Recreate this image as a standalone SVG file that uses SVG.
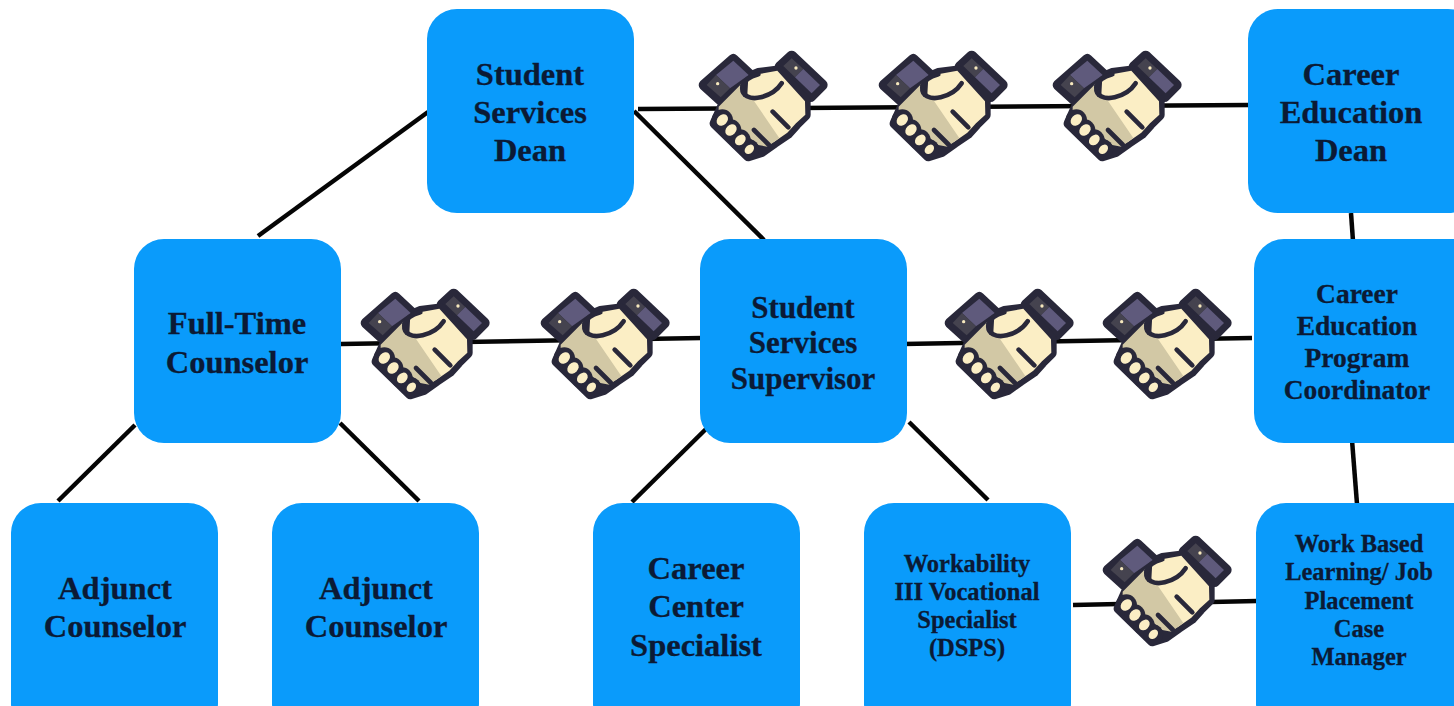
<svg xmlns="http://www.w3.org/2000/svg" width="1454" height="706" viewBox="0 0 1454 706">
<style>
.b{fill:#0a9bfb}
.c{stroke:#050505;stroke-width:4.5;fill:none}
text{font-family:"Liberation Serif","Times New Roman",serif;font-weight:bold;fill:#0b1a35;text-anchor:middle;stroke:#0b1a35;stroke-width:.3px}
.l{font-size:32.5px}
.m{font-size:31px}
.s{font-size:27.5px}
.x{font-size:24.5px}
.o{fill:#29283a;stroke:#29283a;stroke-width:32;stroke-linejoin:round}
.h{fill:none;stroke:#29283a;stroke-width:14;stroke-linecap:round;stroke-linejoin:round}
</style>
<defs>
<g id="hs" transform="scale(.3333)">
<path class="o" d="M130 58L183 108L95 183L42 135Z"/>
<path class="o" d="M305 48L397 135L362 170L270 80Z"/>
<path class="o" d="M160 120L205 100L265 92L346 183L346 225L318 253L293 281L253 308L215 335L175 348L75 250L95 205Z"/>
<path fill="#5f5a7c" d="M130 62L176 105L120 145L78 105Z"/><path fill="#45434f" d="M78 105L120 145L92 172L50 135Z"/>
<path fill="#45434f" d="M305 55L280 78L315 112L340 87Z"/><path fill="#5f5a7c" d="M340 87L315 112L365 160L390 135Z"/>
<circle cx="83" cy="131" r="5" fill="#f6e8bd"/><circle cx="318" cy="84" r="5" fill="#f6e8bd"/>
<path fill="#fbeec5" d="M175 112L208 102L262 92L345 184L346 224L318 250L292 278L252 306L232 315L200 285L170 200Z"/>
<path fill="#d2c8a5" d="M168 118L150 135L160 170L190 180L268 294L232 320L205 315L175 290L125 250L86 212L86 200Z"/>
<path class="h" d="M275 130C262 150 242 165 212 172C178 180 155 165 157 143C160 122 178 110 205 103M248 215L295 262M192 270L237 315"/>
<g fill="#29283a"><circle cx="97" cy="240" r="32"/><circle cx="122" cy="270" r="32"/><circle cx="150" cy="300" r="32"/><circle cx="178" cy="328" r="30"/></g>
<g fill="#fbeec5"><ellipse cx="97" cy="240" rx="19" ry="15" transform="rotate(-45 97 240)"/><ellipse cx="123" cy="270" rx="19" ry="15" transform="rotate(-45 123 270)"/><ellipse cx="151" cy="300" rx="18" ry="14" transform="rotate(-45 151 300)"/><ellipse cx="178" cy="328" rx="16" ry="12" transform="rotate(-45 178 328)"/></g>
</g>
</defs>
<rect width="1454" height="706" fill="#fff"/>
<g id="connectors" class="c">
<path d="M638 109L1250 105"/>
<path d="M428 112L258 236"/>
<path d="M634 111L764 240"/>
<path d="M341 344L702 338"/>
<path d="M903 344L1252 338"/>
<path d="M1351 213L1353 241"/>
<path d="M1352 440L1357 504"/>
<path d="M135 425L58 501"/>
<path d="M340 423L419 501"/>
<path d="M708 427L632 502"/>
<path d="M909 422L988 500"/>
<path d="M1073 605L1257 601"/>
</g>
<g id="handshakes">
<use href="#hs" x="690" y="40"/><use href="#hs" x="870" y="40"/><use href="#hs" x="1044" y="40"/>
<use href="#hs" x="352" y="278"/><use href="#hs" x="532" y="278"/><use href="#hs" x="936" y="278"/><use href="#hs" x="1094" y="278"/>
<use href="#hs" x="1094" y="525"/>
</g>
<g id="n1"><rect class="b" x="427" y="9" width="207" height="204" rx="30"/><text class="l" x="530" y="85">Student</text><text class="l" x="530" y="123">Services</text><text class="l" x="530" y="161">Dean</text></g>
<g id="n2"><rect class="b" x="1248" y="9" width="230" height="204" rx="30"/><text class="l" x="1351" y="85">Career</text><text class="l" x="1351" y="123">Education</text><text class="l" x="1351" y="161">Dean</text></g>
<g id="n3"><rect class="b" x="134" y="239" width="207" height="204" rx="30"/><text class="l" x="237" y="334">Full-Time</text><text class="l" x="237" y="373">Counselor</text></g>
<g id="n4"><rect class="b" x="700" y="239" width="207" height="204" rx="30"/><text class="m" x="803" y="318">Student</text><text class="m" x="803" y="353">Services</text><text class="m" x="803" y="389">Supervisor</text></g>
<g id="n5"><rect class="b" x="1254" y="239" width="230" height="204" rx="30"/><text class="s" x="1357" y="303">Career</text><text class="s" x="1357" y="335">Education</text><text class="s" x="1357" y="367">Program</text><text class="s" x="1357" y="399">Coordinator</text></g>
<g id="n6"><rect class="b" x="11" y="503" width="207" height="230" rx="30"/><text class="l" x="115" y="599">Adjunct</text><text class="l" x="115" y="637">Counselor</text></g>
<g id="n7"><rect class="b" x="272" y="503" width="207" height="230" rx="30"/><text class="l" x="376" y="599">Adjunct</text><text class="l" x="376" y="637">Counselor</text></g>
<g id="n8"><rect class="b" x="593" y="503" width="207" height="230" rx="30"/><text class="l" x="696" y="579">Career</text><text class="l" x="696" y="617">Center</text><text class="l" x="696" y="656">Specialist</text></g>
<g id="n9"><rect class="b" x="864" y="503" width="207" height="230" rx="30"/><text class="x" x="967" y="572">Workability</text><text class="x" x="967" y="600">III Vocational</text><text class="x" x="967" y="628">Specialist</text><text class="x" x="967" y="656">(DSPS)</text></g>
<g id="n10"><rect class="b" x="1256" y="503" width="230" height="230" rx="30"/><text class="x" x="1359" y="552">Work Based</text><text class="x" x="1359" y="580">Learning/ Job</text><text class="x" x="1359" y="609">Placement</text><text class="x" x="1359" y="637">Case</text><text class="x" x="1359" y="665">Manager</text></g>
</svg>
